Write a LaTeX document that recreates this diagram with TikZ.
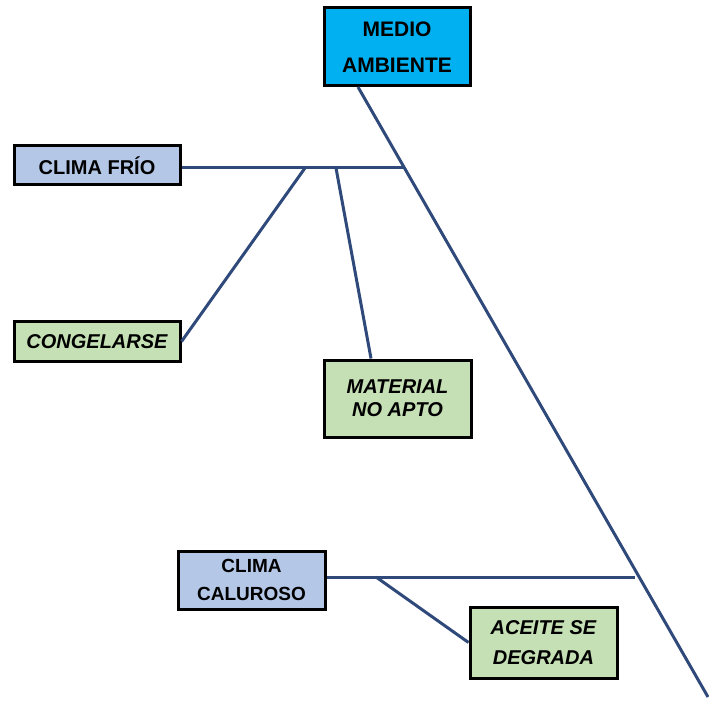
\documentclass[tikz,border=0pt]{standalone}
\usepackage{fontspec}
\setmainfont{Liberation Sans}
\definecolor{cyanbox}{HTML}{00B0F0}
\definecolor{bluebox}{HTML}{B4C7E7}
\definecolor{greenbox}{HTML}{C5E0B4}
\definecolor{navy}{HTML}{2F4A7A}
\begin{document}
\begin{tikzpicture}[x=0.5pt,y=-0.5pt,
  box/.style={draw=black,line width=1.5pt,inner sep=0pt,align=center,font=\bfseries},
  cause/.style={box,fill=bluebox},
  effect/.style={box,fill=greenbox,font=\bfseries\itshape},
  bone/.style={draw=navy,line width=1.5pt}]
\useasboundingbox (0,0) rectangle (708,710);
\node[box,fill=cyanbox,minimum width=73pt,minimum height=39pt,font=\bfseries\fontsize{10.5}{18}\selectfont] (medio) at (397,47) {MEDIO\\AMBIENTE};
\node[cause,minimum width=83pt,minimum height=19.5pt,font=\bfseries\fontsize{10}{12}\selectfont] (frio) at (97,165.5) {CLIMA FRÍO};
\node[effect,minimum width=83pt,minimum height=19.5pt,font=\bfseries\itshape\fontsize{10}{12}\selectfont] (cong) at (97,341.5) {CONGELARSE};
\node[effect,minimum width=73.5pt,minimum height=38.5pt,font=\bfseries\itshape\fontsize{10}{11.5}\selectfont] (mat) at (397.5,398.5) {MATERIAL\\NO APTO};
\node[cause,minimum width=73.5pt,minimum height=29pt,font=\bfseries\fontsize{9.5}{14}\selectfont] (calu) at (251.5,580) {CLIMA\\CALUROSO};
\node[effect,minimum width=73.5pt,minimum height=35.5pt,font=\bfseries\itshape\fontsize{10}{15}\selectfont] (aceite) at (543.5,642.5) {ACEITE SE\\DEGRADA};
% spine
\coordinate (s0) at (358,87);
\coordinate (s1) at (708,697);
\coordinate (j1) at (405,168);
\coordinate (j2) at (635,577);
\coordinate (b1) at (305,168);
\coordinate (b2) at (336,168);
\coordinate (b3) at (376,577);
\draw[bone] (s0) -- (s1);
\draw[bone] (frio.east |- j1) -- (j1);
\draw[bone] (b1) -- (cong.east);
\draw[bone] (b2) -- (mat.north -| 371,0);
\draw[bone] (calu.east |- j2) -- (j2);
\draw[bone] (b3) -- (aceite.west);
\end{tikzpicture}
\end{document}
